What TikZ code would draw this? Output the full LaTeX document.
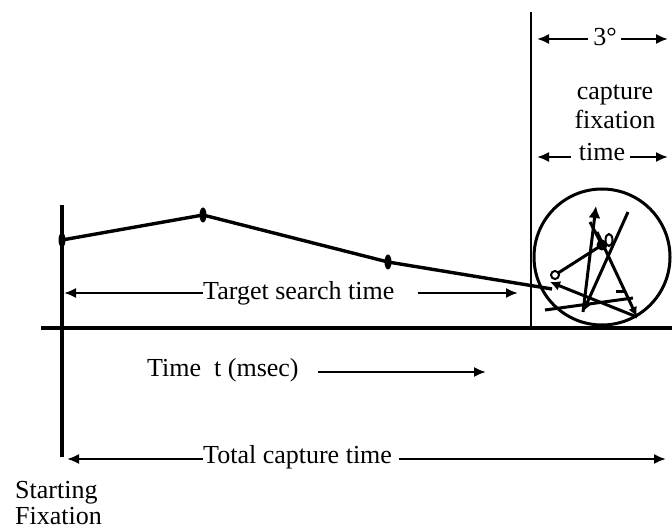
\documentclass[tikz,border=0pt]{standalone}
\usepackage{fontspec}
\setmainfont{Liberation Serif}
\usetikzlibrary{arrows.meta}
\begin{document}
\begin{tikzpicture}[x=1pt,y=-1pt,
  lbl/.style={inner sep=0pt, anchor=base west, font=\fontsize{26}{28}\selectfont},
  lblc/.style={inner sep=0pt, anchor=base, font=\fontsize{26}{28}\selectfont},
  arr/.style={-{Latex[length=12pt,width=10pt]}, line width=2pt},
  thick line/.style={line width=3.4pt},
  scrib/.style={line width=3pt},
  tick/.style={fill=black, draw=none}]
\useasboundingbox (0,0) rectangle (672,529);
% axes
\coordinate (ltop) at (62,205);
\coordinate (lbot) at (62,457);
\coordinate (rtop) at (531,12);
\coordinate (rbot) at (531,328);
\coordinate (bl) at (41,328);
\coordinate (br) at (672,328);
\draw[line width=3.2pt] (ltop) -- (lbot);
\draw[line width=2.8pt] (rtop) -- (rbot);
\draw[line width=3.2pt] (bl) -- (br);
% search path
\coordinate (f1) at (62,240);
\coordinate (f2) at (203,215);
\coordinate (f3) at (388,262);
\coordinate (f4) at (552,289);
\draw[thick line] (f1) -- (f2) -- (f3) -- (f4);
\foreach \p in {f1,f2,f3} \fill[tick] (\p) ellipse (3.5pt and 7.5pt);
% capture circle
\coordinate (cc) at (602,257);
\draw[line width=3pt] (cc) circle (68);
% fixation scribble
\coordinate (s1) at (550,282);
\coordinate (s2) at (637,317);
\coordinate (s3) at (545,310);
\coordinate (s4) at (633,298);
\coordinate (s5) at (555,275);
\coordinate (s6) at (602,245);
\coordinate (s7) at (597,232);
\coordinate (s8) at (628,212);
\coordinate (s9) at (583,312);
\coordinate (s10) at (596,206);
\coordinate (s11) at (590,222);
\draw[scrib,-{Latex[length=10pt,width=10pt]}] (s2) -- (s1);
\draw[scrib] (s3) -- (s4);
\draw[scrib] (s5) -- (s6);
\draw[scrib,-{Latex[length=10pt,width=9pt]}] (s7) -- (s2);
\draw[scrib,-{Latex[length=10pt,width=9pt]}] (s8) -- (s9);
\draw[scrib,-{Latex[length=12pt,width=12pt]}] (s9) -- (s10);
\draw[scrib] (s11) -- (s6);
\draw[scrib] (616,292) -- (626,292);
\fill (s6) circle (5.5pt);
\draw[line width=2pt, fill=white] (s5) circle (4pt);
\draw[line width=2pt, fill=white] (609,240) ellipse (3.5pt and 6pt);
% labels
\node[lbl] (tst) at (203,300) {Target search time};
\coordinate (tstL) at (64,293);
\coordinate (tstA) at (203,293);
\coordinate (tstB) at (418,293);
\coordinate (tstR) at (518,293);
\draw[arr] (tstA) -- (tstL);
\draw[arr] (tstB) -- (tstR);
\node[lbl] (tim) at (147,376) {Time\ \ t (msec)};
\coordinate (timA) at (318,372);
\coordinate (timB) at (486,372);
\draw[arr] (timA) -- (timB);
\node[lbl] (tct) at (203,463) {Total capture time};
\coordinate (tctL) at (67,459);
\coordinate (tctA) at (203,459);
\coordinate (tctB) at (399,459);
\coordinate (tctR) at (666,459);
\draw[arr] (tctA) -- (tctL);
\draw[arr] (tctB) -- (tctR);
\node[lbl, anchor=base west] (sf1) at (15,498) {Starting};
\node[lbl, anchor=base west] (sf2) at (15,524) {Fixation};
\node[lblc] (deg) at (605,46) {3°};
\coordinate (degL) at (537,39);
\coordinate (degA) at (588,39);
\coordinate (degB) at (621,39);
\coordinate (degR) at (668,39);
\draw[arr] (degA) -- (degL);
\draw[arr] (degB) -- (degR);
\node[lblc] (cap) at (615,100) {capture};
\node[lblc] (fix) at (615,129) {fixation};
\node[lblc] (ctm) at (602,161) {time};
\coordinate (ctL) at (537,157);
\coordinate (ctA) at (571,157);
\coordinate (ctB) at (630,157);
\coordinate (ctR) at (668,157);
\draw[arr] (ctA) -- (ctL);
\draw[arr] (ctB) -- (ctR);
\end{tikzpicture}
\end{document}
